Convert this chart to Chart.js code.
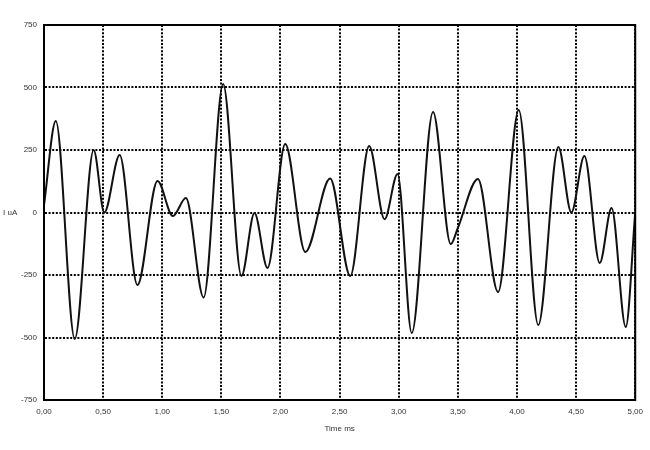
<!DOCTYPE html>
<html>
<head>
<meta charset="utf-8">
<script src="https://cdn.jsdelivr.net/npm/chart.js@4/dist/chart.umd.min.js"></script>
<style>
html,body{margin:0;padding:0;background:#fff;}
#wrap{width:650px;height:450px;}
</style>
</head>
<body>
<div id="wrap"><canvas id="c" width="650" height="450"></canvas></div>
<script>
// Time (ms) and current (uA)
const times = [0, 0.10, 0.26, 0.42, 0.51, 0.64, 0.79, 0.96, 1.09, 1.20, 1.35, 1.515, 1.67, 1.78, 1.89, 2.04, 2.21, 2.42, 2.59, 2.75, 2.88, 2.99, 3.11, 3.29, 3.44, 3.50, 3.67, 3.84, 4.015, 4.18, 4.35, 4.46, 4.57, 4.70, 4.80, 4.92, 5.0];
const currents = [30, 366, -506, 250, 0, 230, -290, 126, -14, 58, -340, 514, -254, -2, -222, 274, -158, 136, -254, 266, -27, 154, -482, 402, -126, -62, 134, -318, 410, -450, 262, 0, 226, -202, 18, -458, 0];
const xTicks = [0, 0.5, 1, 1.5, 2, 2.5, 3, 3.5, 4, 4.5, 5];
const yTicks = [-750, -500, -250, 0, 250, 500, 750];
const xTitle = 'Time ms';
const yTitle = 'I uA';

const points = times.map((t, i) => ({x: t, y: currents[i]}));

const frameAndTitles = {
  id: 'frameAndTitles',
  afterDraw(chart) {
    const {ctx, chartArea: a} = chart;
    ctx.save();
    ctx.strokeStyle = '#000';
    ctx.lineWidth = 2;
    ctx.setLineDash([]);
    ctx.strokeRect(a.left, a.top, a.right - a.left, a.bottom - a.top);
    ctx.fillStyle = '#333';
    ctx.font = '8px "Liberation Sans", Arial, sans-serif';
    ctx.textBaseline = 'middle';
    ctx.textAlign = 'left';
    ctx.fillText(yTitle, 3, chart.scales.y.getPixelForValue(0));
    ctx.textAlign = 'center';
    ctx.fillText(xTitle, (a.left + a.right) / 2, 429);
    ctx.restore();
  }
};

new Chart(document.getElementById('c'), {
  type: 'line',
  data: {
    datasets: [{
      data: points,
      borderColor: '#111',
      borderWidth: 2,
      pointRadius: 0,
      fill: false,
      cubicInterpolationMode: 'monotone'
    }]
  },
  options: {
    responsive: false,
    animation: false,
    events: [],
    layout: {padding: {top: 25, right: 12, left: 0, bottom: 0}},
    plugins: {legend: {display: false}, tooltip: {enabled: false}},
    scales: {
      x: {
        type: 'linear',
        min: 0, max: 5,
        afterBuildTicks(s) { s.ticks = xTicks.map(v => ({value: v})); },
        afterFit(s) { s.height = 50; },
        grid: {color: '#000', lineWidth: 2, drawTicks: false},
        border: {display: true, color: '#000', width: 2, dash: [2, 1.6]},
        ticks: {
          padding: 7,
          color: '#333',
          font: {family: '"Liberation Sans", Arial, sans-serif', size: 8},
          maxRotation: 0,
          callback: v => Number(v).toFixed(2).replace('.', ',')
        }
      },
      y: {
        type: 'linear',
        min: -750, max: 750,
        afterBuildTicks(s) { s.ticks = yTicks.map(v => ({value: v})); },
        afterFit(s) { s.width = 44; },
        grid: {color: '#000', lineWidth: 2, drawTicks: false},
        border: {display: true, color: '#000', width: 2, dash: [2, 1.6]},
        ticks: {
          padding: 7,
          color: '#333',
          font: {family: '"Liberation Sans", Arial, sans-serif', size: 8},
          callback: v => String(v)
        }
      }
    }
  },
  plugins: [frameAndTitles]
});
</script>
</body>
</html>
